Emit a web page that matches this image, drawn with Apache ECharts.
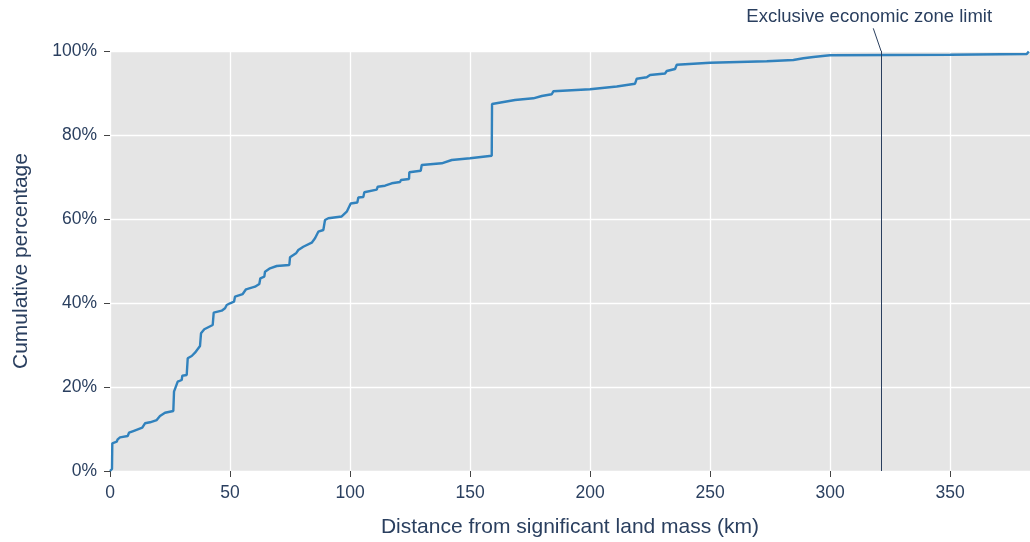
<!DOCTYPE html>
<html>
<head>
<meta charset="utf-8">
<script src="https://cdn.jsdelivr.net/npm/echarts@6.0.0/dist/echarts.min.js"></script>
<style>
  html, body { margin: 0; padding: 0; background: #fff; }
  #chart { width: 1030px; height: 542px; }
</style>
</head>
<body>
<div id="chart"></div>
<script>
// distance (km) vs cumulative share of sites (%)
const distanceKm = [
  0, 0.63, 0.83, 0.96, 2.79, 3.21, 4.17, 7.38, 7.92, 9.71, 13.46, 14.58, 16.67, 19.46,
  20.83, 22.92, 26.38, 26.67, 27.5, 28.21, 29.88, 30.13, 31.96, 32.38, 34.04, 35.42,
  37.5, 37.92, 39.29, 42.79, 43.21, 46.54, 47.92, 48.63, 50, 51.67, 52.08, 55.29,
  56.67, 60.42, 62.21, 62.63, 64.29, 64.58, 66.67, 69.46, 74.71, 75, 77.5, 78.46,
  80.54, 84.04, 85.42, 86.79, 88.88, 89.58, 90.96, 96.54, 98.63, 100.29, 103.04,
  103.46, 105.54, 105.96, 111.13, 111.54, 114.58, 117.38, 120.83, 121.25, 124.58,
  124.71, 129.46, 129.88, 138.21, 138.88, 142.38, 150, 159.04, 159.17, 168.75,
  176.38, 179.88, 184.04, 184.71, 200, 211.13, 218.75, 219.46, 223.63, 225, 231.25,
  231.96, 235.42, 236.13, 250, 273.63, 284.71, 288.88, 293.04, 297.92, 300, 350,
  381.96, 382.8
];
const cumulativePct = [
  0, 0.24, 0.48, 6.6, 6.98, 7.55, 8.02, 8.33, 9.12, 9.52, 10.31, 11.36, 11.6, 12.14,
  13.1, 13.88, 14.29, 18.88, 19.29, 21.26, 21.67, 22.69, 22.86, 26.83, 27.38, 28.17,
  29.76, 32.79, 33.74, 34.76, 37.69, 38.17, 38.74, 39.52, 39.93, 40.31, 41.5, 42.14,
  43.26, 43.88, 44.52, 45.88, 46.26, 47.45, 48.26, 48.81, 49.05, 50.88, 51.83, 52.62,
  53.4, 54.36, 55.4, 56.98, 57.38, 59.76, 60.17, 60.6, 61.74, 63.69, 63.93,
  65.12, 65.24, 66.36, 66.98, 67.69, 67.93, 68.5, 68.81, 69.29, 69.52,
  71.12, 71.5, 72.86, 73.26, 73.64, 74.05, 74.45, 75.07, 87.38, 88.33,
  88.74, 89.29, 89.69, 90.4, 90.9, 91.55, 92.21, 93.4, 93.74, 94.29, 94.64,
  95.24, 95.71, 96.74, 97.21, 97.57, 97.86, 98.26, 98.57, 98.88, 98.98, 99.12,
  99.29, 99.9
];
const xTicks = [0, 50, 100, 150, 200, 250, 300, 350];
const eezLimit = 321.25;
const eezLabel = 'Exclusive economic zone limit';

const textColor = '#2a3f5f';
const font = '"Liberation Sans", Arial, sans-serif';

const points = distanceKm.map((d, i) => [d, cumulativePct[i]]);

const myChart = echarts.init(document.getElementById('chart'));
myChart.setOption({
  backgroundColor: '#fff',
  animation: false,
  textStyle: { fontFamily: font, color: textColor },
  grid: {
    left: 110,
    right: 0,
    top: 51,
    bottom: 71,
    outerBoundsMode: 'none',
    containLabel: false,
    show: true,
    backgroundColor: '#e5e5e5',
    borderWidth: 0,
  },
  xAxis: {
    type: 'value',
    min: 0,
    max: 383.3,
    interval: 50,
    name: 'Distance from significant land mass (km)',
    nameLocation: 'middle',
    nameGap: 46,
    nameTextStyle: { fontSize: 21, color: textColor, fontFamily: font },
    axisLine: { show: false },
    axisTick: { show: true, length: 6, lineStyle: { color: '#444' }, customValues: xTicks },
    axisLabel: { fontSize: 17.5, color: textColor, margin: 13, fontFamily: font, customValues: xTicks },
    splitLine: { show: true, lineStyle: { color: '#fff', width: 1.3 } },
  },
  yAxis: {
    type: 'value',
    min: 0,
    max: 100,
    interval: 20,
    name: 'Cumulative percentage',
    nameLocation: 'middle',
    nameGap: 78,
    nameTextStyle: { fontSize: 21, color: textColor, fontFamily: font },
    axisLine: { show: false },
    axisTick: { show: true, length: 6, lineStyle: { color: '#444' } },
    axisLabel: { fontSize: 17.5, color: textColor, margin: 13, fontFamily: font, formatter: '{value}%' },
    splitLine: { show: true, lineStyle: { color: '#fff', width: 1.3 } },
  },
  series: [
    {
      type: 'line',
      data: points,
      showSymbol: false,
      lineStyle: { color: '#3182bd', width: 2.4 },
      itemStyle: { color: '#3182bd' },
      markLine: {
        silent: true,
        symbol: 'none',
        label: { show: false },
        lineStyle: { color: textColor, width: 1, type: 'solid' },
        data: [[{ coord: [eezLimit, 0] }, { coord: [eezLimit, 100] }]],
      },
    },
  ],
});

// annotation arrow and text above the plot area
const eezTop = myChart.convertToPixel({ gridIndex: 0 }, [eezLimit, 100]);
const eezTail = myChart.convertToPixel({ gridIndex: 0 }, [318.0, 105.4]);
const eezTextPos = myChart.convertToPixel({ gridIndex: 0 }, [316.3, 108.2]);
myChart.setOption({
  graphic: [
    {
      type: 'line',
      shape: { x1: eezTop[0], y1: eezTop[1], x2: eezTail[0], y2: eezTail[1] },
      style: { stroke: textColor, lineWidth: 1 },
      silent: true,
    },
    {
      type: 'text',
      x: eezTextPos[0],
      y: eezTextPos[1],
      style: {
        text: eezLabel,
        fill: textColor,
        font: '18.5px ' + font,
        align: 'center',
        verticalAlign: 'middle',
      },
      silent: true,
    },
  ],
});
</script>
</body>
</html>
